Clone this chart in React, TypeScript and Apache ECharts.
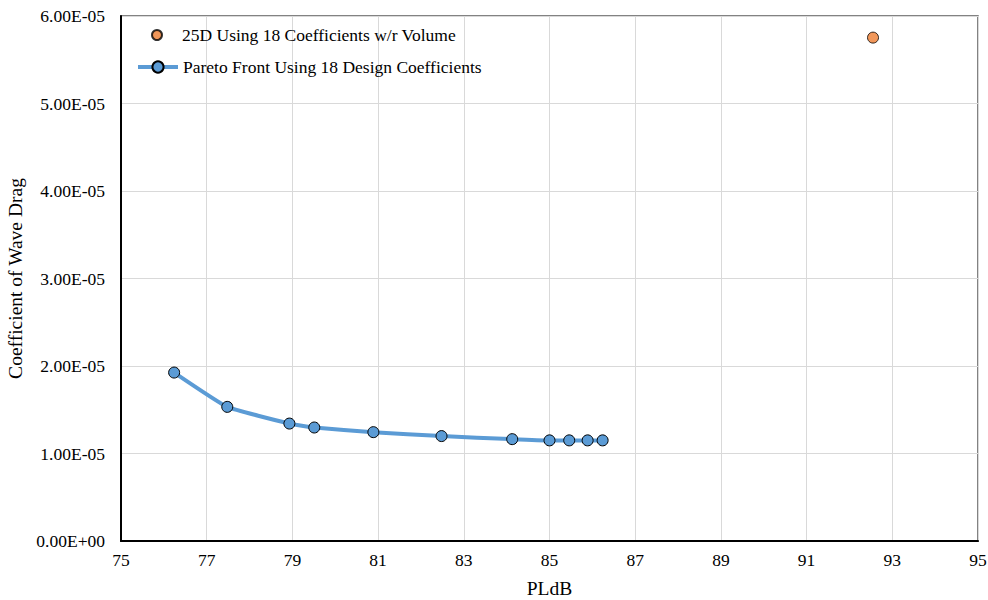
import React, { useEffect, useRef } from "react";
import * as echarts from "echarts";

const paretoX = [76.24, 77.48, 78.93, 79.51, 80.89, 82.48, 84.13, 85.0, 85.46, 85.89, 86.24];
const paretoY = [1.925e-5, 1.533e-5, 1.342e-5, 1.297e-5, 1.244e-5, 1.199e-5, 1.164e-5, 1.15e-5, 1.15e-5, 1.15e-5, 1.15e-5];
const volumeX = [92.55];
const volumeY = [5.753e-5];
const seriesNames = ["25D Using 18 Coefficients w/r Volume", "Pareto Front Using 18 Design Coefficients"];

const FONT = "'Liberation Serif', 'Times New Roman', serif";

function fmtSci(v: number): string {
  if (v === 0) return "0.00E+00";
  const s = v.toExponential(2).toUpperCase();
  const [m, e] = s.split("E");
  const sign = e[0] === "-" ? "-" : "+";
  const digits = e.replace(/[+-]/, "").padStart(2, "0");
  return `${m}E${sign}${digits}`;
}

export default function App() {
  const ref = useRef<HTMLDivElement>(null);
  useEffect(() => {
    if (!ref.current) return;
    const chart = echarts.init(ref.current, undefined, { renderer: "svg" });
    const legendText = { fontFamily: FONT, fontSize: 17.5, color: "#000", lineHeight: 20 };
    chart.setOption({
      animation: false,
      backgroundColor: "#ffffff",
      grid: {
        left: 121,
        right: 10,
        top: 16,
        bottom: 59,
        show: true,
        borderColor: "#595959",
        borderWidth: 1.5,
        outerBoundsMode: "none",
        containLabel: false,
      },
      legend: [
        {
          orient: "vertical",
          left: 146,
          top: 20,
          itemWidth: 40,
          itemHeight: 10,
          textStyle: legendText,
          data: [{ name: seriesNames[0], icon: "circle" }],
        },
        {
          orient: "vertical",
          left: 131,
          top: 52,
          itemWidth: 40,
          itemHeight: 14,
          textStyle: legendText,
          lineStyle: { width: 4 },
          data: [{ name: seriesNames[1] }],
        },
      ],
      xAxis: {
        type: "value",
        min: 75,
        max: 95,
        interval: 2,
        name: "PLdB",
        nameLocation: "middle",
        nameGap: 37,
        nameTextStyle: { fontFamily: FONT, fontSize: 19.5, color: "#000" },
        axisLine: { show: true, lineStyle: { color: "#000", width: 2 } },
        axisTick: { show: false },
        axisLabel: { fontFamily: FONT, fontSize: 17.5, color: "#000", margin: 10 },
        splitLine: { show: true, lineStyle: { color: "#d9d9d9", width: 1 } },
      },
      yAxis: {
        type: "value",
        min: 0,
        max: 6e-5,
        interval: 1e-5,
        name: "Coefficient of Wave Drag",
        nameLocation: "middle",
        nameGap: 86,
        nameTextStyle: { fontFamily: FONT, fontSize: 19.5, color: "#000" },
        axisLine: { show: true, lineStyle: { color: "#000", width: 2 } },
        axisTick: { show: false },
        axisLabel: {
          fontFamily: FONT,
          fontSize: 17.5,
          color: "#000",
          margin: 16,
          formatter: (v: number) => fmtSci(Math.round(v * 1e7) / 1e7),
        },
        splitLine: { show: true, lineStyle: { color: "#d9d9d9", width: 1 } },
      },
      series: [
        {
          name: seriesNames[0],
          type: "scatter",
          data: volumeX.map((x, i) => [x, volumeY[i]]),
          symbol: "circle",
          symbolSize: 11,
          itemStyle: { color: "#ed7d31", borderColor: "#000", borderWidth: 1 },
          z: 3,
        },
        {
          name: seriesNames[1],
          type: "line",
          data: paretoX.map((x, i) => [x, paretoY[i]]),
          smooth: 0.12,
          symbol: "circle",
          symbolSize: 11,
          showSymbol: true,
          lineStyle: { color: "#5b9bd5", width: 4 },
          itemStyle: { color: "#5b9bd5", borderColor: "#000", borderWidth: 1 },
          z: 2,
        },
      ],
    });
    return () => chart.dispose();
  }, []);
  return <div ref={ref} style={{ width: 988, height: 600, position: "absolute", left: 0, top: 0 }} />;
}
